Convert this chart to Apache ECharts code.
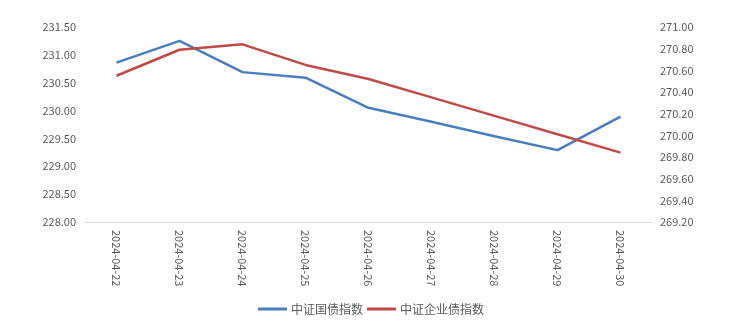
<!DOCTYPE html>
<html><head><meta charset="utf-8">
<script src="https://cdn.jsdelivr.net/npm/echarts@6/dist/echarts.min.js"></script>
<style>html,body{margin:0;padding:0;background:#fff}#c{width:742px;height:328px}</style>
</head><body><div id="c"></div>
<script>
var categories = ['2024-04-22','2024-04-23','2024-04-24','2024-04-25','2024-04-26','2024-04-27','2024-04-28','2024-04-29','2024-04-30'];
var govBond = [230.86, 231.25, 230.69, 230.59, 230.05, 229.80, 229.54, 229.29, 229.89];
var corpBond = [270.55, 270.79, 270.84, 270.65, 270.52, 270.35, 270.18, 270.01, 269.84];
var seriesNames = ['中证国债指数', '中证企业债指数'];

var chart = echarts.init(document.getElementById('c'));
var font = '"Noto Sans CJK SC", "Noto Sans", sans-serif';
chart.setOption({
  animation: false,
  grid: {left: 85, right: 90, top: 27, bottom: 106},
  legend: {
    bottom: 8, left: 'center', itemWidth: 29, itemHeight: 3, itemGap: 4,
    icon: 'rect',
    textStyle: {color: '#595959', fontSize: 12, fontFamily: font, padding: [0, 0, 0, -1]},
    data: seriesNames
  },
  xAxis: {
    type: 'category', data: categories, boundaryGap: true,
    axisLine: {lineStyle: {color: '#d9d9d9', width: 1}},
    axisTick: {show: false},
    axisLabel: {rotate: -90, color: '#595959', fontSize: 11, fontFamily: font, margin: 8, interval: 0}
  },
  yAxis: [{
    type: 'value', min: 228, max: 231.5, interval: 0.5,
    axisLine: {show: false}, axisTick: {show: false}, splitLine: {show: false},
    axisLabel: {color: '#595959', fontSize: 11, fontFamily: font, margin: 9, formatter: function(v){return v.toFixed(2);}}
  }, {
    type: 'value', min: 269.2, max: 271, interval: 0.2,
    axisLine: {show: false}, axisTick: {show: false}, splitLine: {show: false},
    axisLabel: {color: '#595959', fontSize: 11, fontFamily: font, margin: 8, formatter: function(v){return v.toFixed(2);}}
  }],
  series: [{
    name: seriesNames[0], type: 'line', yAxisIndex: 0, data: govBond,
    symbol: 'none', lineStyle: {color: '#4a7ebb', width: 2.5}, itemStyle: {color: '#4a7ebb'}
  }, {
    name: seriesNames[1], type: 'line', yAxisIndex: 1, data: corpBond,
    symbol: 'none', lineStyle: {color: '#be4b48', width: 2.5}, itemStyle: {color: '#be4b48'}
  }]
});
</script></body></html>
